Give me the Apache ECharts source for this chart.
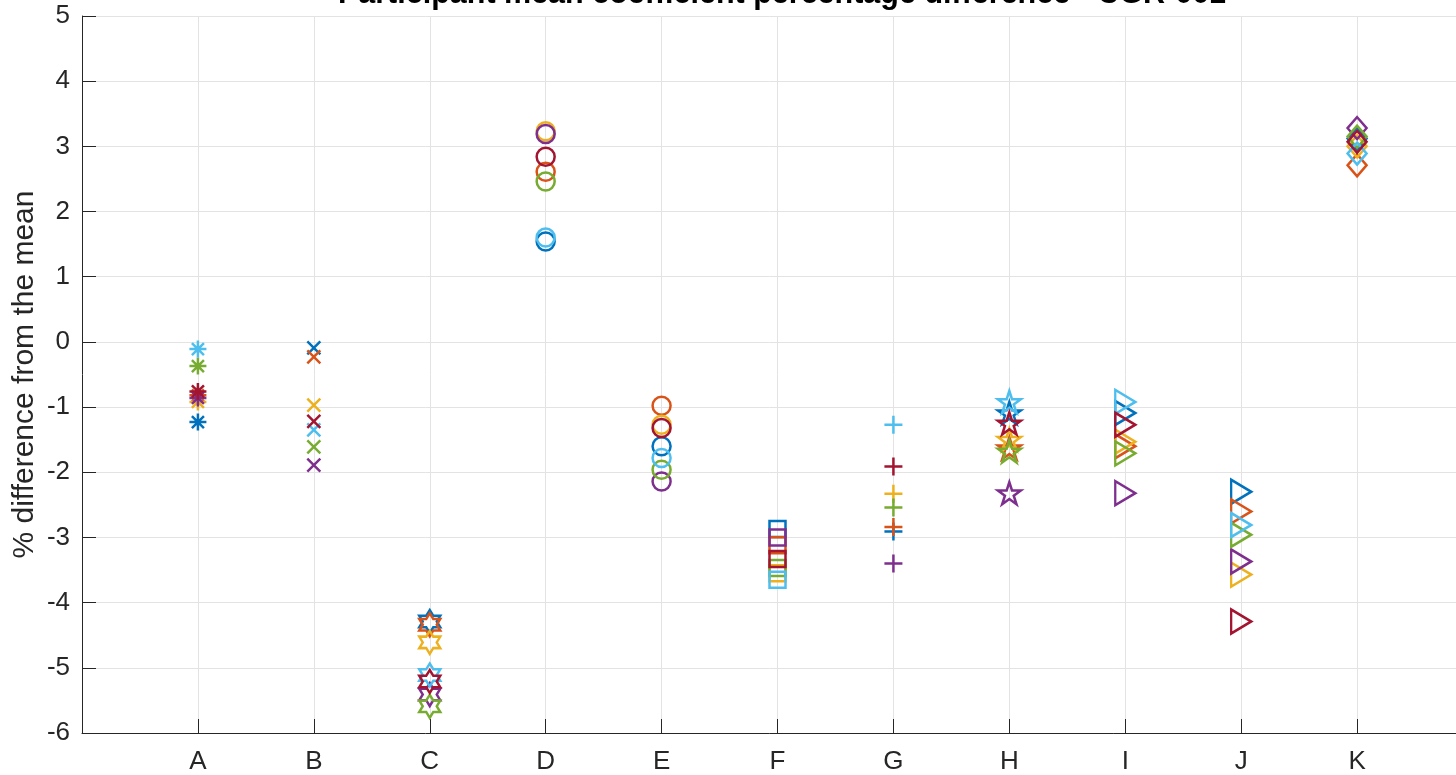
<!DOCTYPE html>
<html>
<head>
<meta charset="utf-8">
<script src="https://cdn.jsdelivr.net/npm/echarts@6/dist/echarts.min.js"></script>
<style>
html,body{margin:0;padding:0;background:#fff;overflow:hidden;}
#c{width:1456px;height:775px;}
</style>
</head>
<body>
<div id="c"></div>
<script>
// ---- data ----
const categories = ['A','B','C','D','E','F','G','H','I','J','K'];
const yTicks = [-6,-5,-4,-3,-2,-1,0,1,2,3,4,5];
const participantColors = ['#0072BD','#D95319','#EDB120','#7E2F8E','#77AC30','#4DBEEE','#A2142F'];
const p1 = [-1.23, -0.09, -4.29, 1.54, -1.60, -2.87, -2.91, -1.09, -1.09, -2.30, 3.12];
const p2 = [-0.82, -0.23, -4.34, 2.61, -0.98, -3.12, -2.84, -1.63, -1.60, -2.60, 2.71];
const p3 = [-0.92, -0.97, -4.61, 3.23, -1.27, -3.55, -2.33, -1.50, -1.53, -3.57, 3.00];
const p4 = [-0.86, -1.89, -5.41, 3.19, -2.14, -3.00, -3.40, -2.32, -2.32, -3.37, 3.28];
const p5 = [-0.37, -1.61, -5.59, 2.46, -1.96, -3.47, -2.54, -1.68, -1.71, -2.96, 3.15];
const p6 = [-0.11, -1.35, -5.11, 1.60, -1.78, -3.65, -1.27, -0.92, -0.92, -2.81, 2.89];
const p7 = [-0.76, -1.22, -5.21, 2.84, -1.32, -3.33, -1.91, -1.25, -1.27, -4.29, 3.07];
const participants = [p1,p2,p3,p4,p5,p6,p7];

// ---- marker styles per category ----
const hexagram = 'path://M0,-1L0.2887,-0.5L0.866,-0.5L0.577,0L0.866,0.5L0.2887,0.5L0,1L-0.2887,0.5L-0.866,0.5L-0.577,0L-0.866,-0.5L-0.2887,-0.5Z';
const pentagram = 'path://M0,-1L0.2245,-0.309L0.951,-0.309L0.3633,0.118L0.588,0.809L0,0.382L-0.588,0.809L-0.3633,0.118L-0.951,-0.309L-0.2245,-0.309Z';
const markers = [
  {symbol:'path://M0,-1L0,1M-1,0L1,0M-0.707,-0.707L0.707,0.707M-0.707,0.707L0.707,-0.707', size:[17,17]},
  {symbol:'path://M-1,-1L1,1M-1,1L1,-1', size:[13,13]},
  {symbol:hexagram, size:[21,23]},
  {symbol:'circle', size:[18,18]},
  {symbol:'circle', size:[18,18]},
  {symbol:'rect', size:[16,16]},
  {symbol:'path://M0,-1L0,1M-1,0L1,0', size:[18,18]},
  {symbol:pentagram, size:[23,22]},
  {symbol:'path://M-1,-1L1,0L-1,1Z', size:[20,24]},
  {symbol:'path://M-1,-1L1,0L-1,1Z', size:[20,24]},
  {symbol:'diamond', size:[19,22]}
];

const txt = '#262626';
const series = participants.map((vals, pi) => ({
  type: 'scatter',
  z: 3 + pi,
  silent: true,
  data: vals.map((v, ci) => ({
    value: [ci + 1, v],
    symbol: markers[ci].symbol,
    symbolSize: markers[ci].size
  })),
  itemStyle: {
    color: 'rgba(0,0,0,0)',
    borderColor: participantColors[pi],
    borderWidth: 2.5,
    opacity: 1
  }
}));

const chart = echarts.init(document.getElementById('c'), null, {renderer:'canvas'});
chart.setOption({
  backgroundColor: '#ffffff',
  animation: false,
  textStyle: {fontFamily: 'Liberation Sans, Arial, sans-serif'},
  title: {
    text: 'Participant mean coefficient percentage difference - CGR-001',
    left: 777,
    textAlign: 'center',
    top: -26,
    textStyle: {fontFamily: 'Liberation Sans, Arial, sans-serif', fontWeight: 'bold', fontSize: 30.5, color: '#000'}
  },
  grid: {left: 82, top: 16, width: 1391, height: 717, containLabel: false, outerBoundsMode: 'none'},
  xAxis: {
    type: 'value',
    min: 0, max: 12, interval: 1,
    axisLine: {show: true, onZero: false, lineStyle: {color: txt, width: 1}},
    axisTick: {show: true, inside: true, length: 14, lineStyle: {color: txt}},
    splitLine: {show: true, lineStyle: {color: '#e3e3e3', width: 1}},
    axisLabel: {
      margin: 16, fontSize: 26, color: txt,
      formatter: v => (v >= 1 && v <= categories.length) ? categories[v - 1] : ''
    }
  },
  yAxis: {
    type: 'value',
    min: yTicks[0], max: yTicks[yTicks.length - 1], interval: 1,
    name: '% difference from the mean',
    nameLocation: 'middle',
    nameGap: 42,
    nameMoveOverlap: false,
    nameTextStyle: {fontSize: 30, color: txt},
    axisLine: {show: true, onZero: false, lineStyle: {color: txt, width: 1}},
    axisTick: {show: true, inside: true, length: 14, lineStyle: {color: txt}},
    splitLine: {show: true, lineStyle: {color: '#e3e3e3', width: 1}},
    axisLabel: {margin: 12, fontSize: 26, color: txt}
  },
  series: series
});
</script>
</body>
</html>
